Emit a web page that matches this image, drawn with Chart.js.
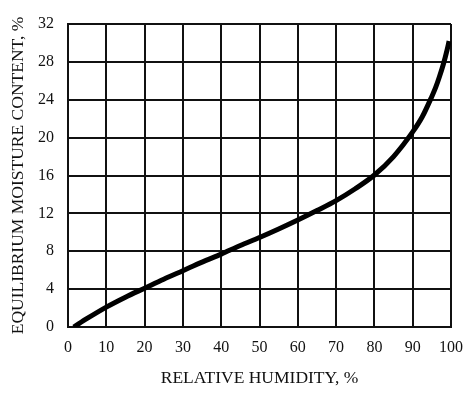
<!DOCTYPE html>
<html>
<head>
<meta charset="utf-8">
<script src="https://cdn.jsdelivr.net/npm/chart.js@4"></script>
<style>
  html, body { margin: 0; padding: 0; background: #fff; }
  #wrap { width: 474px; height: 397px; }
</style>
</head>
<body>
<div id="wrap"><canvas id="c" width="474" height="397"></canvas></div>
<script>
// relative humidity (%) vs equilibrium moisture content (%)
const humidity = [1.5, 5, 10, 15, 20, 25, 30, 35, 40, 45, 50, 55, 60, 65, 70, 75, 80, 85, 90, 92.5, 95, 96, 97, 98, 99, 99.5];
const moisture = [0, 0.9, 2.1, 3.15, 4.1, 5.05, 5.95, 6.85, 7.7, 8.6, 9.45, 10.35, 11.3, 12.3, 13.35, 14.6, 16.05, 18.0, 20.6, 22.2, 24.35, 25.3, 26.45, 27.75, 29.3, 30.2];
const xTicks = [0, 10, 20, 30, 40, 50, 60, 70, 80, 90, 100];
const yTicks = [0, 4, 8, 12, 16, 20, 24, 28, 32];

const serif = '"Liberation Serif", "Times New Roman", serif';

const points = humidity.map((h, i) => ({ x: h, y: moisture[i] }));

new Chart(document.getElementById('c'), {
  type: 'line',
  data: {
    datasets: [{
      data: points,
      borderColor: '#000',
      borderWidth: 5,
      pointRadius: 0,
      cubicInterpolationMode: 'monotone',
      fill: false,
    }],
  },
  options: {
    responsive: false,
    animation: false,
    layout: { padding: { top: 24, right: 21, left: 0, bottom: 0 } },
    plugins: { legend: { display: false }, tooltip: { enabled: false } },
    scales: {
      x: {
        type: 'linear',
        min: 0,
        max: 100,
        afterFit: (s) => { s.height = 70; },
        afterBuildTicks: (s) => { s.ticks = xTicks.map(v => ({ value: v })); },
        grid: { color: '#111', lineWidth: 2, drawTicks: false },
        border: { color: '#111', width: 2 },
        ticks: { color: '#111', padding: 11, font: { family: serif, size: 16 } },
        title: {
          display: true,
          text: 'RELATIVE HUMIDITY, %',
          color: '#111',
          font: { family: serif, size: 17.5 },
          padding: { top: 0, bottom: 8 },
        },
      },
      y: {
        type: 'linear',
        min: 0,
        max: 32,
        afterFit: (s) => { s.width = 68; },
        afterBuildTicks: (s) => { s.ticks = yTicks.map(v => ({ value: v })); },
        grid: { color: '#111', lineWidth: 2, drawTicks: false },
        border: { color: '#111', width: 2 },
        ticks: { color: '#111', padding: 14, font: { family: serif, size: 16 } },
        title: {
          display: true,
          text: 'EQUILIBRIUM MOISTURE CONTENT, %',
          color: '#111',
          font: { family: serif, size: 17.5 },
          padding: { top: 8, bottom: 0 },
        },
      },
    },
  },
});
</script>
</body>
</html>
